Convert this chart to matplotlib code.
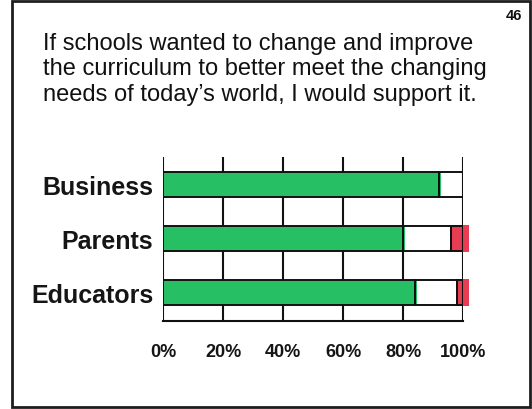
import matplotlib
matplotlib.use("Agg")
import matplotlib.pyplot as plt
from matplotlib.patches import Rectangle

plt.rcParams['font.family'] = ['Liberation Sans', 'DejaVu Sans']

groups = ["Business", "Parents", "Educators"]
agree = [92, 80, 84]
neutral = [8, 16, 14]
disagree = [0, 4, 2]
tick_values = [0, 20, 40, 60, 80, 100]
tick_labels = ["0%", "20%", "40%", "60%", "80%", "100%"]
title = ("If schools wanted to change and improve\n"
         "the curriculum to better meet the changing\n"
         "needs of today\u2019s world, I would support it.")
page_no = "46"

GREEN = "#27bf63"
RED = "#e83c52"
INK = "#111111"

W, H = 532, 410
fig = plt.figure(figsize=(W / 100, H / 100), dpi=100)
fig.patch.set_facecolor("white")

# slide frame
fig.add_artist(Rectangle((12 / W, 2 / H), 518 / W, 406 / H, transform=fig.transFigure,
                         fill=False, edgecolor="#1e1e1e", linewidth=2))

fig.text(43 / W, 1 - 33 / H, title, ha="left", va="top", fontsize=17,
         linespacing=1.2, color=INK)
fig.text(522 / W, 1 - 16 / H, page_no, ha="right", va="center", fontsize=10.5,
         fontweight="bold", color=INK)

ax = fig.add_axes([163 / W, 88 / H, 300 / W, 164 / H])
ypos = list(range(len(groups)))
bh = 0.46

for x in tick_values:
    # the 100% line stays visible over the red fills
    ax.axvline(x, color=INK, linewidth=1.5, zorder=5 if x == tick_values[-1] else 1)

left_n = list(agree)
left_d = [a + n for a, n in zip(agree, neutral)]

# colour fills sit slightly off the black outlines (print registration)
ax.barh(ypos, neutral, left=left_n, height=bh, color="white", linewidth=0, zorder=2)
ax.barh(ypos, agree, left=0.8, height=bh, color=GREEN, linewidth=0, zorder=2)
red_fill = ax.barh(ypos, [d + 1.7 if d > 0 else 0 for d in disagree],
                   left=[l + 0.3 for l in left_d], height=bh * 1.08,
                   color=RED, linewidth=0, zorder=2)
for patch in red_fill:
    patch.set_clip_on(False)

ax.barh(ypos, agree, height=bh, color=GREEN, edgecolor=INK, linewidth=1.4, zorder=3)
ax.barh(ypos, neutral, left=left_n, height=bh, color="none", edgecolor=INK,
        linewidth=1.4, zorder=4)
ax.barh(ypos, disagree, left=left_d, height=bh, color="none", edgecolor=INK,
        linewidth=1.4, zorder=4)

ax.set_xlim(0, 100)
ax.set_ylim(2.52, -0.51)
ax.set_yticks(ypos)
ax.set_yticklabels(groups, fontsize=18, fontweight="bold", color="#151515")
ax.set_xticks(tick_values)
ax.set_xticklabels(tick_labels, fontsize=13, fontweight="bold", color="#151515")
ax.tick_params(axis="both", length=0)
ax.tick_params(axis="x", pad=16)
ax.tick_params(axis="y", pad=7)
for side in ["top", "left", "right"]:
    ax.spines[side].set_visible(False)
ax.spines["bottom"].set_linewidth(1.5)
ax.spines["bottom"].set_color(INK)

fig.savefig("out.png", dpi=100, facecolor="white")
